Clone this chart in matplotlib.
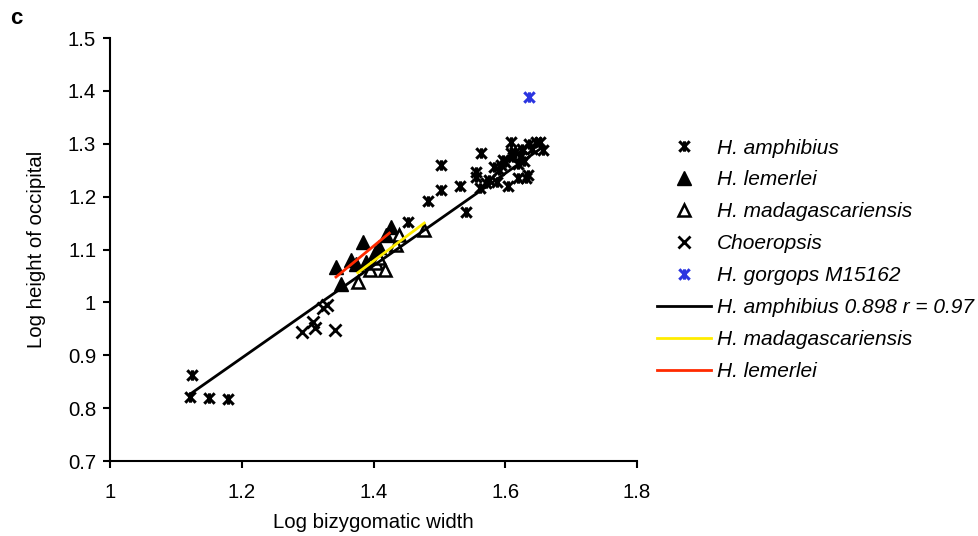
import numpy as np
import matplotlib
matplotlib.use('Agg')
import matplotlib.pyplot as plt
from matplotlib.path import Path

plt.rcParams['font.family'] = ['Liberation Sans', 'DejaVu Sans']

# H. amphibius (x-star markers)
amph_x = [1.124, 1.121, 1.150, 1.179,
          1.452, 1.482, 1.503, 1.503, 1.532, 1.540, 1.556, 1.556, 1.563, 1.561,
          1.571, 1.576, 1.583, 1.588, 1.591, 1.593, 1.596, 1.600, 1.604, 1.608,
          1.608, 1.612, 1.615, 1.619, 1.619, 1.624, 1.626, 1.629, 1.631, 1.634,
          1.636, 1.640, 1.646, 1.652, 1.657]
amph_y = [0.862, 0.822, 0.820, 0.818,
          1.152, 1.192, 1.260, 1.213, 1.221, 1.171, 1.246, 1.237, 1.282, 1.216,
          1.225, 1.232, 1.256, 1.227, 1.250, 1.260, 1.269, 1.265, 1.221, 1.304,
          1.282, 1.275, 1.285, 1.236, 1.262, 1.276, 1.291, 1.267, 1.236, 1.240,
          1.299, 1.290, 1.304, 1.304, 1.288]

# H. lemerlei (filled triangles)
lem_x = [1.343, 1.351, 1.366, 1.374, 1.384, 1.389, 1.402, 1.409, 1.419, 1.427]
lem_y = [1.066, 1.034, 1.080, 1.072, 1.115, 1.077, 1.093, 1.105, 1.127, 1.143]

# H. madagascariensis (open triangles)
mad_x = [1.376, 1.394, 1.404, 1.409, 1.417, 1.434, 1.439, 1.477]
mad_y = [1.039, 1.061, 1.074, 1.083, 1.061, 1.108, 1.127, 1.137]

# Choeropsis
cho_x = [1.291, 1.308, 1.311, 1.323, 1.330, 1.341]
cho_y = [0.944, 0.963, 0.951, 0.989, 0.995, 0.947]

# H. gorgops M15162
gor_x = [1.636]
gor_y = [1.389]

# regression lines (end points)
fit_amph_x = [1.121, 1.655]
fit_amph_y = [0.826, 1.292]
fit_mad_x = [1.376, 1.477]
fit_mad_y = [1.056, 1.150]
fit_lem_x = [1.343, 1.424]
fit_lem_y = [1.048, 1.131]

# X plus vertical stroke (excel-style star)
star = Path([(-1, -1), (1, 1), (-1, 1), (1, -1), (0, -1), (0, 1)],
            [Path.MOVETO, Path.LINETO, Path.MOVETO, Path.LINETO,
             Path.MOVETO, Path.LINETO])

fs = 14.7

fig = plt.figure(figsize=(9.79, 5.36), dpi=100)
ax = fig.add_axes([0.1124, 0.1399, 0.5383, 0.7892])

ax.plot(amph_x, amph_y, ls='none', marker=star, ms=7.5, mec='black', mfc='none',
        mew=2.2, label='H. amphibius')
ax.plot(lem_x, lem_y, ls='none', marker='^', ms=10, mec='black', mfc='black',
        label='H. lemerlei')
ax.plot(mad_x, mad_y, ls='none', marker='^', ms=9, mec='black', mfc='white',
        mew=1.8, label='H. madagascariensis')
ax.plot(cho_x, cho_y, ls='none', marker='x', ms=8, mec='black', mew=2,
        label='Choeropsis')
ax.plot(gor_x, gor_y, ls='none', marker=star, ms=7.5, mec='#2b35e0', mfc='none',
        mew=2.2, label='H. gorgops M15162')
ax.plot(fit_amph_x, fit_amph_y, color='black', lw=2,
        label='H. amphibius 0.898 r = 0.97')
ax.plot(fit_mad_x, fit_mad_y, color='#ffec00', lw=2, label='H. madagascariensis')
ax.plot(fit_lem_x, fit_lem_y, color='#ff2a00', lw=2, label='H. lemerlei')

ax.set_xlim(1, 1.8)
ax.set_ylim(0.7, 1.5)
ax.set_xticks([1, 1.2, 1.4, 1.6, 1.8])
ax.set_xticklabels(['1', '1.2', '1.4', '1.6', '1.8'])
ax.set_yticks(np.arange(0.7, 1.51, 0.1))
ax.set_yticklabels(['0.7', '0.8', '0.9', '1', '1.1', '1.2', '1.3', '1.4', '1.5'])
for s in ['top', 'right']:
    ax.spines[s].set_visible(False)
for s in ['left', 'bottom']:
    ax.spines[s].set_linewidth(1.5)
ax.tick_params(direction='out', length=5, width=1.5, labelsize=fs)
ax.tick_params(axis='y', pad=5)
ax.tick_params(axis='x', pad=11)
ax.set_xlabel('Log bizygomatic width', fontsize=fs, labelpad=8)
ax.set_ylabel('Log height of occipital', fontsize=fs, labelpad=16)

fig.text(0.010, 0.955, 'c', fontsize=16, fontweight='bold')

leg = fig.legend(loc='upper left', bbox_to_anchor=(0.663, 0.757), frameon=False,
                 handlelength=2.55, handletextpad=0.3, labelspacing=0.62,
                 borderaxespad=0, prop={'size': 15, 'style': 'italic'})

fig.savefig('out.png', dpi=100)
